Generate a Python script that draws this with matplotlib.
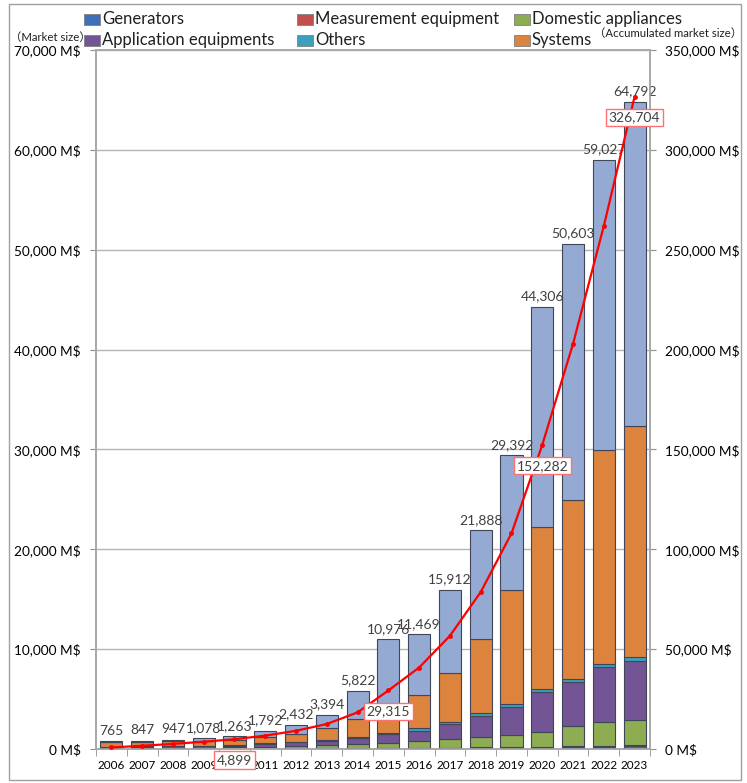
import matplotlib
matplotlib.use("Agg")
import matplotlib.pyplot as plt
from matplotlib.patches import Rectangle
import numpy as np

plt.rcParams['font.family'] = ['Lato', 'Noto Sans CJK JP', 'DejaVu Sans']

years = ["2006", "2007", "2008", "2009", "2010", "2011", "2012", "2013", "2014",
         "2015", "2016", "2017", "2018", "2019", "2020", "2021", "2022", "2023"]

generators = [40, 40, 40, 40, 40, 40, 60, 70, 80, 80, 80, 80, 150, 150, 150, 250, 250, 350]
measurement = [10, 10, 10, 10, 10, 10, 20, 30, 20, 20, 20, 20, 50, 50, 50, 50, 50, 50]
domestic = [50, 60, 80, 100, 120, 200, 220, 300, 400, 500, 700, 900, 1000, 1200, 1500, 2000, 2400, 2500]
application = [120, 130, 150, 160, 180, 300, 400, 400, 600, 900, 1000, 1500, 2100, 2800, 4000, 4400, 5500, 5900]
others = [25, 30, 30, 40, 40, 50, 50, 100, 100, 100, 300, 200, 300, 300, 300, 300, 300, 400]
systems = [470, 480, 450, 480, 560, 600, 750, 1200, 1800, 2700, 3300, 4900, 7400, 11400, 16200, 17900, 21400, 23100]
top_segment = [50, 97, 187, 248, 313, 592, 932, 1294, 2822, 6676, 6069, 8312, 10888, 13492, 22106, 25703, 29127, 32492]

totals = [765, 847, 947, 1078, 1263, 1792, 2432, 3394, 5822, 10976, 11469, 15912,
          21888, 29392, 44306, 50603, 59027, 64792]
accumulated = [765, 1612, 2559, 3637, 4899, 6691, 9123, 12517, 18339, 29315, 40784,
               56696, 78584, 107976, 152282, 202885, 261912, 326704]
boxed_years = ["2010", "2015", "2020", "2023"]

left_ticks = [0, 10000, 20000, 30000, 40000, 50000, 60000, 70000]
right_ticks = [0, 50000, 100000, 150000, 200000, 250000, 300000, 350000]

W, H = 747, 783
fig = plt.figure(figsize=(W / 100, H / 100), dpi=100)
fig.patch.set_facecolor("white")

ax = fig.add_axes([96 / W, 34 / H, 554 / W, 699 / H])
ax2 = ax.twinx()

series = [
    ("Generators", generators, "#3f6fb8"),
    ("Measurement equipment", measurement, "#c0504d"),
    ("Domestic appliances", domestic, "#8eac52"),
    ("Application equipments", application, "#735596"),
    ("Others", others, "#3aa0bd"),
    ("Systems", systems, "#dc843e"),
    (None, top_segment, "#94aad3"),
]

x = np.arange(len(years))
bottom = np.zeros(len(years))
for name, vals, col in series:
    vals = np.array(vals, dtype=float)
    ax.bar(x, vals, 0.72, bottom=bottom, color=col, edgecolor="#3e4658",
           linewidth=0.8, zorder=3)
    bottom += vals

for xi, t in zip(x, totals):
    ax.text(xi, t + 450, f"{t:,}", ha="center", va="bottom", fontsize=10,
            color="#404040", zorder=6)

ax.set_xlim(-0.5, len(years) - 0.5)
ax.set_ylim(0, 70000)
ax.set_yticks(left_ticks)
ax.set_yticklabels([f"{v:,} M$" if v else "0 M$" for v in left_ticks], fontsize=9.8)
ax.set_xticks(x)
ax.set_xticklabels(years, fontsize=8.5)
ax.set_xticks(np.arange(-0.5, len(years)), minor=True)
ax.tick_params(axis="x", which="major", length=0, pad=8)
ax.tick_params(axis="x", which="minor", length=5, color="#909090")
ax.tick_params(axis="y", length=4, color="#909090", pad=7)
ax.grid(axis="y", color="#b5b5b5", linewidth=1, zorder=0)
for s in ax.spines.values():
    s.set_color("#a8a8a8")
    s.set_linewidth(1.2)

ax2.set_ylim(0, 350000)
ax2.set_yticks(right_ticks)
ax2.set_yticklabels([f"{v:,} M$" if v else "0 M$" for v in right_ticks], fontsize=9.8)
ax2.tick_params(axis="y", length=4, color="#909090", pad=7)
for s in ax2.spines.values():
    s.set_color("#a8a8a8")
    s.set_linewidth(1.2)

ax2.plot(x, accumulated, color="#ff0000", linewidth=1.6, marker="o", markersize=2.5, zorder=5)
for xi, yr, a in zip(x, years, accumulated):
    if yr in boxed_years:
        ax2.annotate(f"{a:,}", (xi, a), xytext=(0, -15), textcoords="offset points",
                     ha="center", va="center", fontsize=10, color="#404040", zorder=7,
                     bbox=dict(boxstyle="square,pad=0.2", fc="white", ec="#ff7070", lw=1))

ax2.set_zorder(ax.get_zorder() + 1)
ax2.patch.set_visible(False)

# axis captions
fig.text(10 / W, 1 - 37 / H, "（Market size）", fontsize=8.2, ha="left", va="center", color="#202020")
fig.text(742 / W, 1 - 33 / H, "（Accumulated market size）", fontsize=8.2, ha="right", va="center", color="#202020")

# legend (manual)
legend_items = [
    ("Generators", "#3f6fb8", 84, 19),
    ("Measurement equipment", "#c0504d", 297, 19),
    ("Domestic appliances", "#8eac52", 514, 19),
    ("Application equipments", "#735596", 84, 40),
    ("Others", "#3aa0bd", 297, 40),
    ("Systems", "#dc843e", 514, 40),
]
for label, col, px, py in legend_items:
    fig.patches.append(Rectangle((px / W, 1 - (py + 6) / H), 16 / W, 11 / H,
                                 transform=fig.transFigure, facecolor=col,
                                 edgecolor="#7f7f7f", linewidth=0.6))
    fig.text((px + 18) / W, 1 - py / H, label, fontsize=12, ha="left", va="center", color="#202020")

# outer frame
fig.patches.append(Rectangle((9 / W, 3 / H), 732 / W, 776 / H, transform=fig.transFigure,
                             fill=False, edgecolor="#a0a0a0", linewidth=1))

fig.savefig("out.png", dpi=100)
